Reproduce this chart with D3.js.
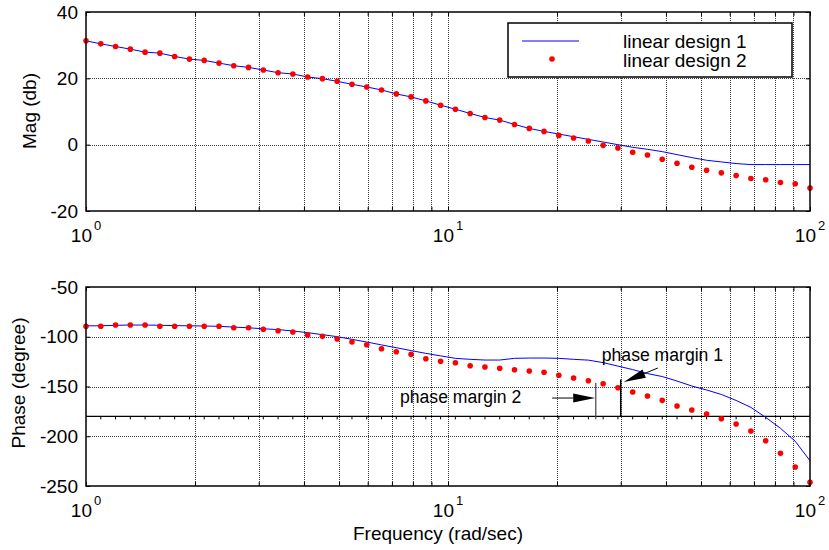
<!DOCTYPE html>
<html>
<head>
<meta charset="utf-8">
<script src="https://cdnjs.cloudflare.com/ajax/libs/d3/7.8.5/d3.min.js"></script>
<style>
  body { margin: 0; background: #fff; }
  svg { display: block; font-family: "Liberation Sans", Arial, sans-serif; }
</style>
</head>
<body>
<div id="bode"></div>
<script>
// frequency grid (rad/sec), 50 log-spaced points from 1 to 100
const freq = [1, 1.0985, 1.2068, 1.3257, 1.4563, 1.5998, 1.7575, 1.9307, 2.1210, 2.3300,
  2.5595, 2.8118, 3.0888, 3.3932, 3.7276, 4.0949, 4.4984, 4.9417, 5.4287, 5.9636,
  6.5513, 7.1969, 7.9060, 8.6851, 9.5410, 10.481, 11.514, 12.649, 13.895, 15.264,
  16.768, 18.421, 20.236, 22.230, 24.421, 26.827, 29.471, 32.375, 35.565, 39.069,
  42.919, 47.149, 51.795, 56.899, 62.506, 68.665, 75.431, 82.864, 91.030, 100];

// magnitude (db)
const magDesign1 = [31.3, 30.4, 29.6, 28.8, 27.9, 27.6, 26.6, 25.8, 25.4, 24.6,
  23.8, 23.3, 22.5, 21.7, 21.3, 20.4, 19.9, 19.1, 18.2, 17.4,
  16.5, 15.3, 14.4, 13.2, 11.9, 10.7, 9.4, 8.2, 7.4, 6.1,
  4.9, 4.0, 3.2, 2.4, 1.6, 0.8, 0.0, -0.8, -1.4, -2.1,
  -3.0, -3.9, -4.7, -5.2, -5.7, -6.0, -6.0, -6.0, -6.0, -6.0];
const magDesign2 = [31.3, 30.4, 29.6, 28.8, 27.9, 27.6, 26.6, 25.8, 25.4, 24.6,
  23.8, 23.3, 22.5, 21.7, 21.3, 20.4, 19.9, 19.1, 18.2, 17.4,
  16.5, 15.3, 14.4, 13.2, 11.9, 10.7, 9.4, 8.2, 7.4, 6.1,
  4.9, 4.0, 2.8, 2.0, 1.1, -0.2, -1.0, -2.3, -3.1, -4.4,
  -5.6, -6.8, -7.7, -8.5, -9.3, -10.2, -10.6, -11.4, -11.8, -13.1];

// phase (degree)
const phaseDesign1 = [-89, -89, -88.5, -88.2, -88.2, -88.5, -88.8, -89, -89.2, -89.5,
  -90.3, -91, -92, -92.8, -94.2, -95.9, -97.9, -99.9, -102.6, -105.3,
  -108.2, -111.0, -113.9, -116.7, -119.2, -121.7, -122.7, -123.4, -123.4, -121.7,
  -121.4, -121.4, -121.7, -122.7, -123.5, -126, -129.5, -133, -137, -140,
  -144.5, -149.5, -153.5, -158, -164, -171, -181, -192, -205, -224.6];
const phaseDesign2 = [-89.5, -89.5, -88.2, -88.2, -88.2, -89.5, -89.5, -89.5, -89.5, -89.5,
  -90.9, -90.9, -92.5, -93.9, -95.2, -98.2, -99.6, -102.3, -105.3, -108.0,
  -112.0, -115.0, -117.7, -122.1, -124.7, -126.1, -129.1, -130.4, -131.7, -133.1,
  -134.4, -135.7, -138.7, -141.5, -144.2, -147.2, -151.2, -155.5, -159.5, -163.9,
  -169.6, -173.6, -177.6, -182.4, -187.7, -194.7, -204.5, -217.2, -230.9, -246.3];

const magTicks = [-20, 0, 20, 40];
const phaseTicks = [-250, -200, -150, -100, -50];
const decadeTicks = [1, 10, 100];
const seriesNames = ["linear design 1", "linear design 2"];

// phase margin markers: [freq, phase at top of marker]
const pm1 = { f: 30, top: -143, label: "phase margin 1" };
const pm2 = { f: 25.6, top: -146.5, label: "phase margin 2" };

const W = 829, H = 550;
const left = 86, right = 810;

const svg = d3.select("#bode").append("svg")
  .attr("width", W).attr("height", H);

const x = d3.scaleLog().domain([1, 100]).range([left, right]);
const yMag = d3.scaleLinear().domain([-20, 40]).range([211, 12]);
const yPh = d3.scaleLinear().domain([-250, -50]).range([486, 287]);

const blue = "#0000ff", red = "#ff0000";

function drawPanel(yScale, yTicks, yLabel, labelPos) {
  const top = yScale.range()[1], bottom = yScale.range()[0];
  const g = svg.append("g");

  // dotted grid
  g.selectAll(".vgrid").data(x.ticks().filter(t => t > 1 && t < 100))
    .enter().append("line")
    .attr("x1", d => Math.round(x(d)) + 0.5).attr("x2", d => Math.round(x(d)) + 0.5)
    .attr("y1", top).attr("y2", bottom)
    .attr("stroke", "#000").attr("stroke-opacity", 0.75)
    .attr("stroke-dasharray", "1,1");
  g.selectAll(".hgrid").data(yTicks.slice(1, -1))
    .enter().append("line")
    .attr("x1", left).attr("x2", right)
    .attr("y1", d => Math.round(yScale(d)) + 0.5).attr("y2", d => Math.round(yScale(d)) + 0.5)
    .attr("stroke", "#000").attr("stroke-opacity", 0.75)
    .attr("stroke-dasharray", "1,1");

  // inward ticks on all four sides
  const xb = d3.axisBottom(x).tickValues(x.ticks()).tickSize(-4).tickFormat("");
  const xt = d3.axisTop(x).tickValues(x.ticks()).tickSize(-4).tickFormat("");
  const yl = d3.axisLeft(yScale).tickValues(yTicks).tickSize(-4).tickFormat("");
  const yr = d3.axisRight(yScale).tickValues(yTicks).tickSize(-4).tickFormat("");
  [[xb, `translate(0,${bottom})`], [xt, `translate(0,${top})`],
   [yl, `translate(${left},0)`], [yr, `translate(${right},0)`]].forEach(([ax, tr]) => {
    const a = g.append("g").attr("transform", tr).call(ax);
    a.select(".domain").remove();
    a.selectAll("line").attr("stroke", "#000");
  });

  // y tick labels
  g.selectAll(".ylab").data(yTicks).enter().append("text")
    .attr("x", 78).attr("y", d => yScale(d)).attr("dy", "0.35em")
    .attr("text-anchor", "end").attr("font-size", 19)
    .text(d => d);

  // x tick labels 10^n
  const xl = g.selectAll(".xlab").data(decadeTicks).enter().append("text")
    .attr("x", d => x(d)).attr("y", bottom + 31)
    .attr("text-anchor", "middle").attr("font-size", 19);
  xl.append("tspan").text("10");
  xl.append("tspan").attr("dx", 2).attr("dy", -12).attr("font-size", 13)
    .text(d => Math.round(Math.log10(d)));

  // y axis title
  g.append("text")
    .attr("transform", `translate(${labelPos[0]},${labelPos[1]}) rotate(-90)`)
    .attr("text-anchor", "middle").attr("font-size", 19)
    .text(yLabel);

  return g;
}

function drawFrame(yScale) {
  const top = yScale.range()[1], bottom = yScale.range()[0];
  svg.append("rect")
    .attr("x", left).attr("y", top)
    .attr("width", right - left).attr("height", bottom - top)
    .attr("fill", "none").attr("stroke", "#000").attr("stroke-width", 1.5);
}

function drawSeries(yScale, lineVals, dotVals) {
  const line = d3.line().x((d, i) => x(freq[i])).y(d => yScale(d));
  svg.append("path").datum(lineVals)
    .attr("d", line).attr("fill", "none")
    .attr("stroke", blue).attr("stroke-width", 1);
  svg.append("g").selectAll("circle").data(dotVals).enter().append("circle")
    .attr("cx", (d, i) => x(freq[i])).attr("cy", d => yScale(d))
    .attr("r", 2.8).attr("fill", red);
}

// ---- magnitude panel
drawPanel(yMag, magTicks, "Mag (db)", [36, 111]);
drawSeries(yMag, magDesign1, magDesign2);

// ---- phase panel
drawPanel(yPh, phaseTicks, "Phase (degree)", [25, 383]);

// -180 degree line with small marks at the frequency points
svg.append("line")
  .attr("x1", left).attr("x2", right)
  .attr("y1", yPh(-180)).attr("y2", yPh(-180))
  .attr("stroke", "#000").attr("stroke-width", 1.3);
svg.append("g").selectAll("line").data(freq.slice(1, -1)).enter().append("line")
  .attr("x1", d => x(d)).attr("x2", d => x(d))
  .attr("y1", yPh(-180)).attr("y2", yPh(-180) + 3)
  .attr("stroke", "#000").attr("stroke-width", 1);

drawSeries(yPh, phaseDesign1, phaseDesign2);

// phase margin markers
svg.append("line")
  .attr("x1", x(pm2.f)).attr("x2", x(pm2.f))
  .attr("y1", yPh(pm2.top)).attr("y2", yPh(-180) + 3)
  .attr("stroke", "#444").attr("stroke-width", 1.2);
svg.append("line")
  .attr("x1", x(pm1.f)).attr("x2", x(pm1.f))
  .attr("y1", yPh(pm1.top)).attr("y2", yPh(-180))
  .attr("stroke", "#000").attr("stroke-width", 1.5);

function arrow(f0, p0, f1, p1) {
  const x0 = x(f0), y0 = yPh(p0), x1 = x(f1), y1 = yPh(p1);
  const ang = Math.atan2(y1 - y0, x1 - x0);
  const len = 22, hw = 4.5;
  const bx = x1 - len * Math.cos(ang), by = y1 - len * Math.sin(ang);
  svg.append("line").attr("x1", x0).attr("y1", y0).attr("x2", bx).attr("y2", by)
    .attr("stroke", "#000").attr("stroke-width", 1);
  const pts = [[x1, y1],
    [bx + hw * Math.sin(ang), by - hw * Math.cos(ang)],
    [bx - hw * Math.sin(ang), by + hw * Math.cos(ang)]];
  svg.append("polygon").attr("points", pts.map(p => p.join(",")).join(" "))
    .attr("fill", "#000");
}
arrow(38.0, -131.4, 30.6, -145.5);
arrow(19.4, -161.6, 25.5, -161.6);

svg.append("text").attr("x", x(26.6)).attr("y", yPh(-124.4))
  .attr("font-size", 17.6).text(pm1.label);
svg.append("text").attr("x", x(7.37)).attr("y", yPh(-166.6))
  .attr("font-size", 17.6).text(pm2.label);

drawFrame(yMag);
drawFrame(yPh);

// legend
const lg = svg.append("g");
lg.append("rect").attr("x", 508).attr("y", 23).attr("width", 284).attr("height", 54)
  .attr("fill", "#fff").attr("stroke", "#000").attr("stroke-width", 1.5);
lg.append("line").attr("x1", 522).attr("x2", 579).attr("y1", 41).attr("y2", 41)
  .attr("stroke", blue).attr("stroke-width", 1);
lg.append("circle").attr("cx", 552).attr("cy", 59).attr("r", 2.8).attr("fill", red);
lg.selectAll(".lt").data(seriesNames).enter().append("text")
  .attr("x", 623).attr("y", (d, i) => 48 + i * 19)
  .attr("font-size", 19).text(d => d);

// x axis title
svg.append("text").attr("x", 438).attr("y", 540)
  .attr("text-anchor", "middle").attr("font-size", 19)
  .text("Frequency (rad/sec)");
</script>
</body>
</html>
